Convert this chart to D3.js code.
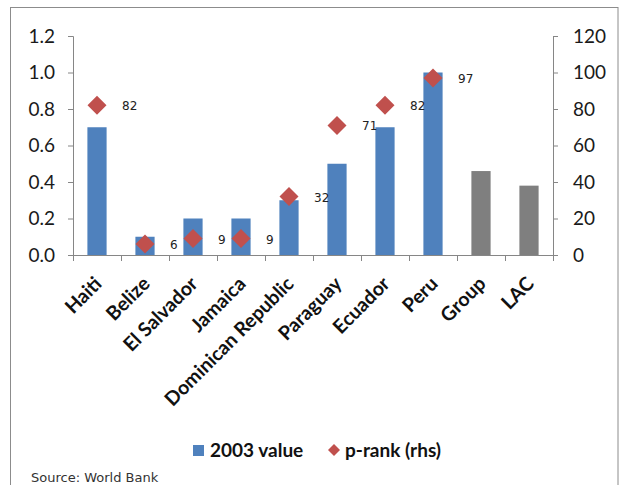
<!DOCTYPE html>
<html><head><meta charset="utf-8">
<script src="https://cdn.jsdelivr.net/npm/d3@7"></script>
<style>body{margin:0;background:#fff}svg{display:block}</style>
</head><body>
<svg id="c" width="619" height="485"></svg>
<script>
const categories = ["Haiti","Belize","El Salvador","Jamaica","Dominican Republic","Paraguay","Ecuador","Peru","Group","LAC"];
const values2003 = [0.7,0.1,0.2,0.2,0.3,0.5,0.7,1.0,0.46,0.38];
const barColors = ["blue","blue","blue","blue","blue","blue","blue","blue","gray","gray"];
const pRank = [82,6,9,9,32,71,82,97];
const leftTicks = [0,0.2,0.4,0.6,0.8,1.0,1.2];
const rightTicks = [0,20,40,60,80,100,120];
const legendLabels = ["2003 value","p-rank (rhs)"];
const sourceText = "Source: World Bank";

const svg = d3.select("#c");
const L = 73, R = 553, T = 36, B = 255;
const axisColor = "#868686";
const colorMap = {blue:"#4F81BD", gray:"#7F7F7F"};
const red = "#C0504D";

// frame
svg.append("rect").attr("x",10.5).attr("y",7.5).attr("width",607.5).attr("height",490)
  .attr("fill","none").attr("stroke","#8c8c8c").attr("stroke-width",1);

const x = d3.scaleBand().domain(categories).range([L,R]).paddingInner(0.6).paddingOuter(0.3);
const yL = d3.scaleLinear().domain([0,1.2]).range([B,T]);
const yR = d3.scaleLinear().domain([0,120]).range([B,T]);

// bars
svg.append("g").selectAll("rect").data(categories).join("rect")
  .attr("x",d=>x(d)).attr("width",x.bandwidth())
  .attr("y",(d,i)=>yL(values2003[i])).attr("height",(d,i)=>B-yL(values2003[i]))
  .attr("fill",(d,i)=>colorMap[barColors[i]]);

// left axis
const gl = svg.append("g").attr("transform",`translate(${L},0)`)
  .call(d3.axisLeft(yL).tickValues(leftTicks).tickFormat(d3.format(".1f")).tickSizeOuter(0).tickSize(5).tickPadding(13));
// right axis
const gr = svg.append("g").attr("transform",`translate(${R},0)`)
  .call(d3.axisRight(yR).tickValues(rightTicks).tickFormat(d3.format("d")).tickSizeOuter(0).tickSize(5).tickPadding(15));
[gl,gr].forEach(g=>{
  g.select(".domain").attr("stroke",axisColor);
  g.selectAll(".tick line").attr("stroke",axisColor);
  g.selectAll(".tick text").attr("font-family","Lato, sans-serif").attr("font-size",19).attr("fill","#1a1a1a");
});

// bottom axis line and ticks
const bx = svg.append("g");
bx.append("line").attr("x1",L).attr("x2",R).attr("y1",B+0.5).attr("y2",B+0.5).attr("stroke",axisColor);
const edges = categories.map(c=>x(c)-x.step()*x.paddingInner()/2).concat([R]);
bx.selectAll("line.t").data(edges).join("line").attr("class","t")
  .attr("x1",d=>Math.round(d)+0.5).attr("x2",d=>Math.round(d)+0.5).attr("y1",B).attr("y2",B+6).attr("stroke",axisColor);

// category labels
bx.selectAll("text").data(categories).join("text")
  .attr("transform",d=>`translate(${x(d)+x.bandwidth()/2+6},${B+30}) rotate(-45)`)
  .attr("text-anchor","end").attr("font-family","Lato, sans-serif").attr("font-weight","bold")
  .attr("font-size",19.5).attr("fill","#111").text(d=>d);

// diamonds
const dsz = 9.5;
const pts = pRank.map((v,i)=>({c:categories[i],v}));
svg.append("g").selectAll("path").data(pts).join("path")
  .attr("d",d=>{const cx=x(d.c)+x.bandwidth()/2, cy=yR(d.v);
    return `M${cx},${cy-dsz}L${cx+dsz},${cy}L${cx},${cy+dsz}L${cx-dsz},${cy}Z`;})
  .attr("fill",red);
svg.append("g").selectAll("text").data(pts).join("text")
  .attr("x",d=>x(d.c)+x.bandwidth()/2+25).attr("y",d=>yR(d.v)+5)
  .attr("font-family","DejaVu Sans, sans-serif").attr("font-size",12).attr("fill","#222")
  .text(d=>d.v);

// legend
const lg = svg.append("g");
lg.append("rect").attr("x",193).attr("y",445).attr("width",11).attr("height",11).attr("fill",colorMap.blue);
lg.append("text").attr("x",210).attr("y",457).attr("font-family","Lato, sans-serif").attr("font-weight","bold")
  .attr("font-size",19).attr("fill","#111").text(legendLabels[0]);
lg.append("path").attr("d","M334,444L340,450L334,456L328,450Z").attr("fill",red);
lg.append("text").attr("x",345).attr("y",457).attr("font-family","Lato, sans-serif").attr("font-weight","bold")
  .attr("font-size",19).attr("fill","#111").text(legendLabels[1]);

svg.append("text").attr("x",31).attr("y",482).attr("font-family","DejaVu Sans, sans-serif")
  .attr("font-size",13).attr("fill","#333").text(sourceText);
</script>
</body></html>
